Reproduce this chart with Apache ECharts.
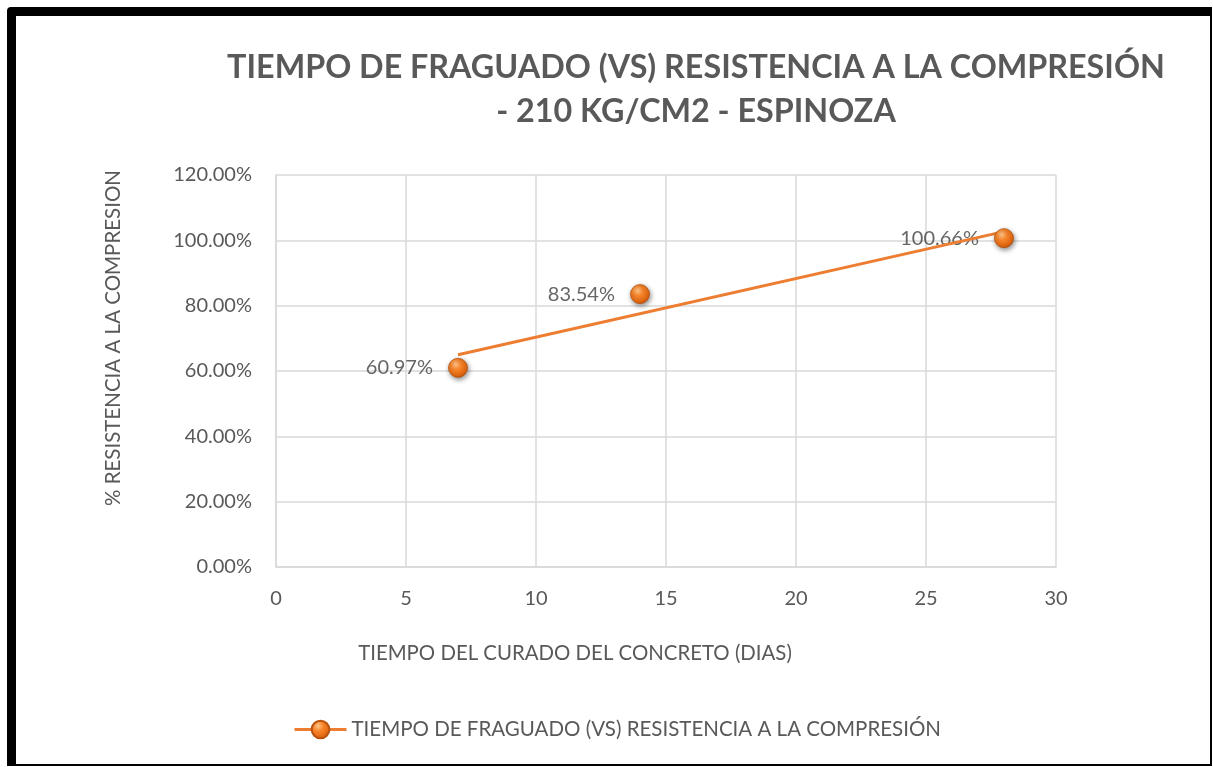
<!DOCTYPE html>
<html>
<head>
<meta charset="utf-8">
<script src="https://cdn.jsdelivr.net/npm/echarts@6/dist/echarts.min.js"></script>
<style>
  html, body { margin: 0; padding: 0; background: #fff; }
  #chart { position: absolute; left: 0; top: 0; width: 1213px; height: 767px; }
  #frame {
    position: absolute; left: 7px; top: 7px; width: 1205px; height: 759px;
    box-sizing: border-box; pointer-events: none;
    border-style: solid; border-color: #000;
    border-width: 9px 2px 2px 9px; border-top-left-radius: 4px;
  }
</style>
</head>
<body>
<div id="chart"></div>
<div id="frame"></div>
<script>
// Curing age (days) and compressive strength reached (% of design strength)
const dias = [7, 14, 28];
const resistencia = [60.97, 83.54, 100.66];
const yTicks = [0, 20, 40, 60, 80, 100, 120];
const xTicks = [0, 5, 10, 15, 20, 25, 30];

const serieNombre = 'TIEMPO DE FRAGUADO (VS) RESISTENCIA A LA COMPRESIÓN';
const FONT = 'Lato, "Open Sans", sans-serif';

// Least-squares linear trend through the measured points
function tendencia(xs, ys) {
  const n = xs.length;
  const mx = xs.reduce((a, b) => a + b, 0) / n;
  const my = ys.reduce((a, b) => a + b, 0) / n;
  let sxy = 0, sxx = 0;
  for (let i = 0; i < n; i++) { sxy += (xs[i] - mx) * (ys[i] - my); sxx += (xs[i] - mx) ** 2; }
  const m = sxy / sxx, b = my - m * mx;
  const x0 = Math.min(...xs), x1 = Math.max(...xs);
  return [[x0, m * x0 + b], [x1, m * x1 + b]];
}

const puntos = dias.map((d, i) => [d, resistencia[i]]);

const esfera = {
  type: 'radial', x: 0.38, y: 0.32, r: 0.75,
  colorStops: [
    { offset: 0, color: '#FFC58A' },
    { offset: 0.35, color: '#F7862C' },
    { offset: 0.8, color: '#E0650F' },
    { offset: 1, color: '#A9470A' }
  ]
};

const chart = echarts.init(document.getElementById('chart'), null, { renderer: 'canvas' });
chart.setOption({
  backgroundColor: '#fff',
  animation: false,
  textStyle: { fontFamily: FONT },
  title: [{
    text: 'TIEMPO DE FRAGUADO (VS) RESISTENCIA A LA COMPRESIÓN\n- 210 KG/CM2 - ESPINOZA',
    left: 691, top: 41, textAlign: 'center',
    textStyle: { fontFamily: FONT, fontWeight: 'bold', fontSize: 32.3, color: '#595959', lineHeight: 44 }
  }, {
    text: 'TIEMPO DEL CURADO DEL CONCRETO (DIAS)',
    left: 570, top: 638, textAlign: 'center',
    textStyle: { fontFamily: FONT, fontWeight: 'normal', fontSize: 20.4, color: '#595959' }
  }],
  graphic: [{
    type: 'text', x: 113, y: 338, rotation: Math.PI / 2,
    style: { text: '% RESISTENCIA A LA COMPRESION', font: '20.5px ' + FONT, fill: '#595959',
      align: 'center', verticalAlign: 'middle' }
  }],
  legend: {
    left: 288, top: 714, itemWidth: 52, itemHeight: 22, itemGap: 8,
    textStyle: { fontFamily: FONT, fontSize: 20.5, color: '#595959' },
    data: [{ name: serieNombre, itemStyle: { color: esfera },
      lineStyle: { color: '#ED7D31', width: 3, opacity: 1 } }]
  },
  grid: { left: 276, right: 157, top: 175, bottom: 200 },
  xAxis: {
    type: 'value', min: xTicks[0], max: xTicks[xTicks.length - 1], interval: 5,
    axisLine: { show: true, lineStyle: { color: '#D9D9D9', width: 1.5 } },
    axisTick: { show: false },
    axisLabel: { fontSize: 20, color: '#595959', margin: 22, fontFamily: FONT },
    splitLine: { show: true, lineStyle: { color: '#D9D9D9', width: 1.5 } }
  },
  yAxis: {
    type: 'value', min: yTicks[0], max: yTicks[yTicks.length - 1], interval: 20,
    axisLine: { show: true, lineStyle: { color: '#D9D9D9', width: 1.5 } },
    axisTick: { show: false },
    axisLabel: { fontSize: 20, color: '#595959', margin: 24, fontFamily: FONT,
      formatter: v => v.toFixed(2) + '%' },
    splitLine: { show: true, lineStyle: { color: '#D9D9D9', width: 1.5 } }
  },
  series: [{
    // value labels sit beneath the trend line
    name: 'etiquetas', type: 'scatter', z: 2, data: puntos, symbolSize: 2,
    itemStyle: { color: 'rgba(0,0,0,0)' }, silent: true,
    label: { show: true, position: 'left', distance: 24, fontSize: 20, color: '#404040', fontFamily: FONT,
      formatter: p => p.value[1].toFixed(2) + '%' }
  }, {
    name: 'tendencia', type: 'line', z: 3, data: tendencia(dias, resistencia),
    symbol: 'none', lineStyle: { color: '#ED7D31', width: 3 }, silent: true
  }, {
    name: serieNombre, type: 'line', z: 4, data: puntos, symbol: 'circle', symbolSize: 19,
    showSymbol: true,
    lineStyle: { color: '#ED7D31', width: 3, opacity: 0 },
    itemStyle: { color: esfera, borderColor: '#B8520E', borderWidth: 0.8,
      shadowColor: 'rgba(0,0,0,0.45)', shadowBlur: 5, shadowOffsetX: 1, shadowOffsetY: 2 }
  }]
});
</script>
</body>
</html>
